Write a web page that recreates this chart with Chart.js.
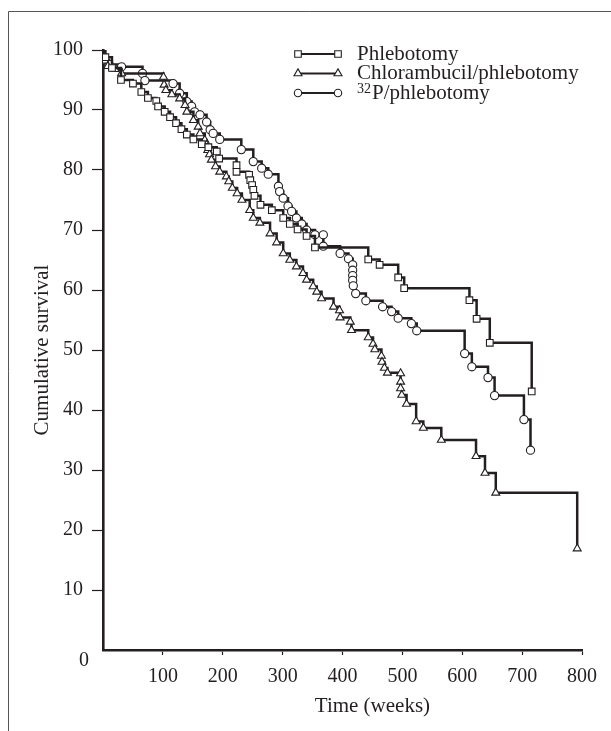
<!DOCTYPE html>
<html><head><meta charset="utf-8">
<script src="https://cdn.jsdelivr.net/npm/chart.js@4.4.1/dist/chart.umd.min.js"></script>
<style>html,body{margin:0;padding:0;background:#fff;}canvas{display:block;}</style>
</head><body>
<canvas id="c" width="611" height="731"></canvas>
<script>
// ---- data (weeks, cumulative survival %) ----
const xTicks = [100,200,300,400,500,600,700,800];
const yTicks = [10,20,30,40,50,60,70,80,90,100];
const seriesNames = ['Phlebotomy','Chlorambucil/phlebotomy','32P/phlebotomy'];

const phlebWeeks = [0,4,15,30,50,64,75,89,92,103,112,122,131,140,151,165,176,190,194,223,223,244,246,249,251,253,263,282,301,312,325,340,354,443,462,493,503,612,624,646,716];
const phlebSurv  = [100,98.8,97,95,94.4,93,92,91.5,90.6,89.7,88.8,87.8,86.8,85.9,85.1,84.3,83.8,83.1,81.9,80.8,79.7,79.2,78.3,77.5,76.7,75.7,74.2,73.3,72,71,70.1,69,67.1,65.1,64.2,62.1,60.3,58.3,55.2,51.2,43.1];

const chlorWeeks = [0,3,8,20,31,101,102,105,115,128,137,140,151,159,162,170,173,175,178,181,188,195,206,210,216,224,232,245,251,262,279,290,301,312,323,334,340,351,357,365,385,395,396,413,415,443,451,454,465,466,470,475,497,497,497,499,507,523,535,565,623,638,656,792];
const chlorSurv  = [100,98.2,97.3,96.8,96.1,95.5,94.2,93.3,92.6,91.9,90.8,89.7,88.3,87.2,86.1,85,84.2,83.3,82.6,81.7,80.6,79.7,78.9,78.1,77,76.1,75,73.3,72,71.2,69.4,67.9,66.1,65,63.9,62.8,61.7,60.6,59.7,58.6,57.2,56.6,55.4,54.7,53.3,52.1,51,50.1,49,48,47,46.2,46.1,44.7,43.6,42.5,41,38.1,37,35,32.3,29.5,26.2,16.9];

const p32Weeks = [0,3,10,31,66,70,117,128,140,148,153,162,173,179,184,195,231,251,265,276,293,295,301,309,315,323,332,340,354,368,368,396,410,417,417,417,417,418,422,439,467,482,493,515,524,604,616,643,654,703,714];
const p32Surv  = [100,98.3,97.6,97.2,96.1,94.9,94.4,92.8,91.4,90.6,89.7,89.2,88,86.7,86.1,85.1,83.4,81.4,80.3,79.3,77.3,76.4,75.3,74,73.1,72,71,70,69.2,69.2,67.3,66.1,65.2,64.2,63.3,62.4,61.6,60.7,59.4,58.2,57.2,56.4,55.3,54.4,53.2,49.4,47.2,45.4,42.4,38.4,33.3];

const INK = '#231f20';
const FONT = "'Liberation Serif','Times New Roman',serif";
const toPts = (xs, ys) => xs.map((x, i) => ({x, y: ys[i]}));

function mkSet(label, xs, ys, style, r) {
  return {
    label, data: toPts(xs, ys), stepped: 'before',
    borderColor: INK, borderWidth: 2.5, fill: false,
    pointStyle: style, pointRadius: c => c.dataIndex === 0 ? 0 : r,
    pointBackgroundColor: '#fff', pointBorderColor: INK, pointBorderWidth: 1.1,
    pointHoverRadius: r
  };
}

function marker(ctx, style, x, y) {
  ctx.save();
  ctx.fillStyle = '#fff'; ctx.strokeStyle = INK; ctx.lineWidth = 1.1;
  ctx.beginPath();
  if (style === 'rect') { ctx.rect(x - 3.3, y - 3.3, 6.6, 6.6); }
  else if (style === 'triangle') { ctx.moveTo(x, y - 4.6); ctx.lineTo(x + 4, y + 2.3); ctx.lineTo(x - 4, y + 2.3); ctx.closePath(); }
  else { ctx.arc(x, y, 3.7, 0, Math.PI * 2); }
  ctx.fill(); ctx.stroke();
  ctx.restore();
}

const extras = {
  id: 'extras',
  beforeDraw(chart) {
    const ctx = chart.ctx;
    ctx.save();
    ctx.strokeStyle = '#555'; ctx.lineWidth = 1;
    ctx.beginPath(); ctx.moveTo(8.5, 731); ctx.lineTo(8.5, 11.5); ctx.lineTo(611, 11.5); ctx.stroke();
    ctx.restore();
  },
  afterDraw(chart) {
    const ctx = chart.ctx;
    const xs = chart.scales.x;
    ctx.save();
    ctx.fillStyle = INK;
    ctx.font = '20px ' + FONT;
    ctx.textAlign = 'right'; ctx.textBaseline = 'middle';
    ctx.fillText('0', 89, 661);
    ctx.font = '21px ' + FONT;
    ctx.textAlign = 'center';
    ctx.fillText('Time (weeks)', xs.getPixelForValue(450), 706);
    // legend
    const styles = ['rect', 'triangle', 'circle'];
    const rows = [54, 73.5, 93];
    const x1 = 298, x2 = 338, tx = 357;
    rows.forEach((y, i) => {
      ctx.strokeStyle = INK; ctx.lineWidth = 2;
      ctx.beginPath(); ctx.moveTo(x1, y); ctx.lineTo(x2, y); ctx.stroke();
      marker(ctx, styles[i], x1, y); marker(ctx, styles[i], x2, y);
      ctx.fillStyle = INK; ctx.textAlign = 'left'; ctx.textBaseline = 'middle';
      const name = seriesNames[i];
      if (name.startsWith('32')) {
        ctx.font = '14px ' + FONT;
        ctx.fillText('32', tx, y - 4);
        const w = ctx.measureText('32').width;
        ctx.font = '21px ' + FONT;
        ctx.fillText(name.slice(2), tx + w + 1, y);
      } else {
        ctx.font = '21px ' + FONT;
        ctx.fillText(name, tx, y);
      }
    });
    ctx.restore();
  }
};

Chart.defaults.font.family = FONT;
Chart.defaults.font.size = 20;
Chart.defaults.color = INK;

new Chart(document.getElementById('c'), {
  type: 'line',
  data: { datasets: [
    mkSet(seriesNames[0], phlebWeeks, phlebSurv, 'rect', 4.7),
    mkSet(seriesNames[1], chlorWeeks, chlorSurv, 'triangle', 4.6),
    mkSet(seriesNames[2], p32Weeks, p32Surv, 'circle', 4.1)
  ]},
  options: {
    responsive: false, animation: false, devicePixelRatio: 1,
    layout: { padding: { left: 0, right: 29, top: 50, bottom: 0 } },
    plugins: { legend: { display: false }, tooltip: { enabled: false } },
    scales: {
      x: {
        type: 'linear', min: 0, max: 800,
        afterBuildTicks: s => { s.ticks = [0, ...xTicks].map(v => ({value: v})); },
        afterFit: s => { s.height = 81; },
        ticks: { autoSkip: false, maxRotation: 0, padding: 10, callback: v => v === 0 ? '' : String(v) },
        grid: { drawOnChartArea: false, tickLength: 5, tickWidth: 1.2, tickColor: c => c.tick && c.tick.value === 0 ? 'rgba(0,0,0,0)' : INK },
        border: { display: true, width: 2.6, color: INK },
        title: { display: false }
      },
      y: {
        min: 0, max: 100,
        afterBuildTicks: s => { s.ticks = [0, ...yTicks].map(v => ({value: v})); },
        afterFit: s => { s.width = 103; },
        ticks: { autoSkip: false, padding: 9, callback: v => v === 0 ? '' : String(v) },
        grid: { drawOnChartArea: false, tickLength: 11, tickWidth: 1.2, tickColor: c => c.tick && c.tick.value === 0 ? 'rgba(0,0,0,0)' : INK },
        border: { display: true, width: 2.6, color: INK },
        title: { display: true, text: 'Cumulative survival', font: { size: 21 }, padding: { top: 30, bottom: 0 } }
      }
    }
  },
  plugins: [extras]
});
</script>
</body></html>
